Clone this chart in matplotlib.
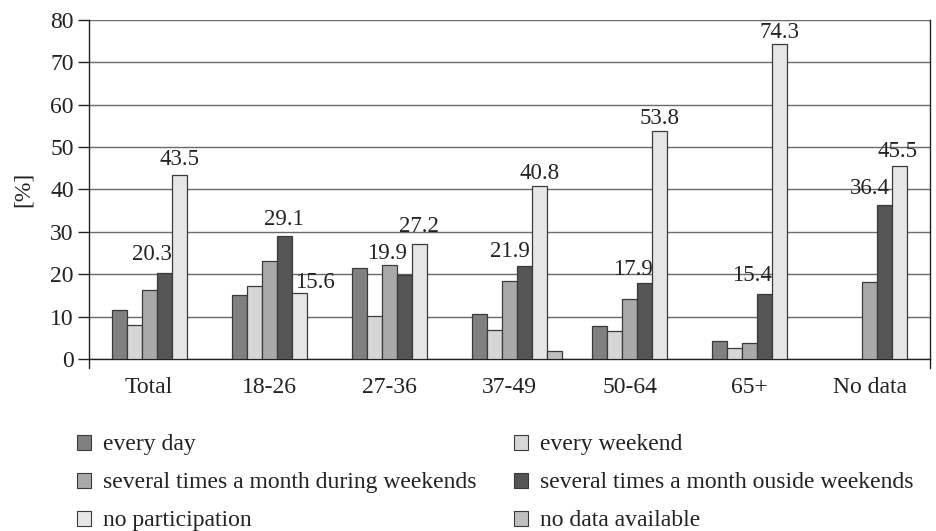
import numpy as np
import matplotlib.pyplot as plt
from matplotlib.patches import Patch


groups = ["Total", "18-26", "27-36", "37-49", "50-64", "65+", "No data"]

every_day          = [11.5, 15.0, 21.4, 10.5, 7.7, 4.2, 0.0]
every_weekend      = [8.0, 17.2, 10.2, 6.8, 6.5, 2.5, 0.0]
month_weekends     = [16.2, 23.1, 22.2, 18.4, 14.2, 3.7, 18.2]
month_outside      = [20.3, 29.1, 19.9, 21.9, 17.9, 15.4, 36.4]
no_participation   = [43.5, 15.6, 27.2, 40.8, 53.8, 74.3, 45.5]
no_data_available  = [0.0, 0.0, 0.0, 1.8, 0.0, 0.0, 0.0]

series = [every_day, every_weekend, month_weekends,
          month_outside, no_participation, no_data_available]
names = ["every day", "every weekend",
         "several times a month during weekends",
         "several times a month ouside weekends",
         "no participation", "no data available"]
colors = ["#808080", "#d6d6d6", "#a9a9a9", "#555555", "#e6e6e6", "#c0c0c0"]

# label offsets in pixels (dx, dy) for the labelled series
offs_outside = [(-12, 13), (0, 11), (-17, 16), (-15, 9), (-12, 8), (-13, 13), (-15, 11)]
offs_nopart  = [(0, 10), (16, 5), (0, 12), (0, 7), (0, 7), (0, 6), (-2, 9)]

plt.rcParams["font.family"] = "Liberation Serif"
plt.rcParams["font.size"] = 17
ink = "#222222"

fig = plt.figure(figsize=(9.37, 5.31), dpi=100)
ax = fig.add_axes([0.095, 0.324, 0.8975, 0.6385])

x = np.arange(len(groups))
w = 0.125
for i, (vals, c, n) in enumerate(zip(series, colors, names)):
    h = np.array(vals, dtype=float)
    h[h == 0] = np.nan   # no bar at all where nothing was recorded
    ax.bar(x + (i - 2) * w, h, w, color=c, edgecolor="#3a3a3a",
           linewidth=0.9, label=n, zorder=3)

for xi, v, (dx, dy) in zip(x, month_outside, offs_outside):
    ax.annotate(f"{v:.1f}", (xi + w, v), xytext=(dx, dy), textcoords="offset pixels",
                ha="center", va="baseline", color=ink, fontsize=16.5)
for xi, v, (dx, dy) in zip(x, no_participation, offs_nopart):
    ax.annotate(f"{v:.1f}", (xi + 2 * w, v), xytext=(dx, dy), textcoords="offset pixels",
                ha="center", va="baseline", color=ink, fontsize=16.5)

ax.set_xlim(-0.5, 6.5)
ax.set_ylim(0, 80)
ax.set_yticks(range(0, 90, 10))
ax.set_xticks(x)
ax.set_xticklabels(groups)
ax.yaxis.grid(True, color="#6a6a6a", linewidth=1.0, zorder=0)
ax.set_axisbelow(True)
ax.tick_params(axis="x", length=0, pad=13, colors=ink)
ax.tick_params(axis="y", length=8, width=1, direction="out", pad=3, colors=ink)
for s in ["left", "right", "bottom"]:
    ax.spines[s].set_color(ink)
    ax.spines[s].set_linewidth(1.0)
ax.spines["left"].set_bounds(-2.2, 80)
ax.spines["right"].set_bounds(-2.2, 80)
ax.spines["top"].set_visible(False)
ax.set_ylabel("[%]", labelpad=12, color=ink)

handles = [Patch(facecolor=c, edgecolor="#3a3a3a", linewidth=0.8) for c in colors]
order = [0, 2, 4, 1, 3, 5]
fig.legend([handles[i] for i in order], [names[i] for i in order],
           loc="upper left", bbox_to_anchor=(0.082, 0.182), ncol=2, frameon=False,
           borderpad=0, borderaxespad=0,
           handlelength=0.6, handleheight=0.6, handletextpad=0.5,
           labelspacing=0.72, columnspacing=1.6, labelcolor=ink)

fig.savefig("out.png", dpi=100)
